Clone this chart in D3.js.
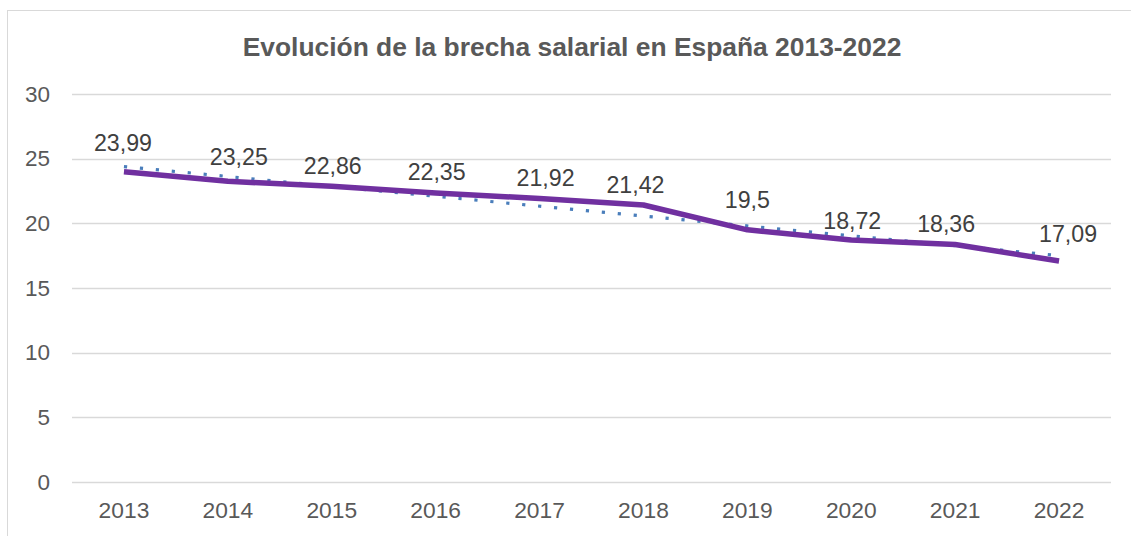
<!DOCTYPE html>
<html><head><meta charset="utf-8">
<script src="https://cdn.jsdelivr.net/npm/d3@7"></script>
<style>body{margin:0;background:#fff}svg{display:block}</style>
</head><body>
<svg id="c" width="1131" height="536"></svg>
<script>
const years = ["2013","2014","2015","2016","2017","2018","2019","2020","2021","2022"];
const gap = [23.99,23.25,22.86,22.35,21.92,21.42,19.5,18.72,18.36,17.09];
const labels = ["23,99","23,25","22,86","22,35","21,92","21,42","19,5","18,72","18,36","17,09"];
const yTicks = [0,5,10,15,20,25,30];
const title = "Evolución de la brecha salarial en España 2013-2022";

// layout only: manual nudges of the data labels (px), as placed in the original chart
const labelDx = [-1,11,1,1,6,-8,0,1,-9,9];
const labelDy = [-21,-16,-12,-13,-13,-12,-22,-11,-13,-19];

const svg = d3.select("#c");
const font = "'Liberation Sans', Arial, sans-serif";
svg.append("rect").attr("x",7.5).attr("y",10.5).attr("width",1140).attr("height",540)
  .attr("fill","#fff").attr("stroke","#d9d9d9").attr("stroke-width",1);

const x = d3.scaleBand().domain(years).range([72,1111]);
const y = d3.scaleLinear().domain([0,30]).range([482,94]);
const cx = d => x(d) + x.bandwidth()/2;

// gridlines
svg.append("g").selectAll("line").data(yTicks).join("line")
  .attr("x1",72).attr("x2",1111).attr("y1",d=>Math.round(y(d))+0.5).attr("y2",d=>Math.round(y(d))+0.5)
  .attr("stroke","#d9d9d9").attr("stroke-width",1.3);

// y axis labels
const yAxis = d3.axisLeft(y).tickValues(yTicks).tickSize(0).tickPadding(22);
const gy = svg.append("g").attr("transform","translate(72,0)").call(yAxis);
gy.select(".domain").remove();
gy.selectAll("text").attr("font-family",font).attr("font-size",22.5).attr("fill","#595959");

// x axis labels
const xAxis = d3.axisBottom(x).tickSize(0).tickPadding(20);
const gx = svg.append("g").attr("transform","translate(0,482)").call(xAxis);
gx.select(".domain").remove();
gx.selectAll("text").attr("font-family",font).attr("font-size",22.8).attr("fill","#595959");

// trendline (linear regression)
const n = gap.length;
const xs = d3.range(1,n+1);
const mx = d3.mean(xs), my = d3.mean(gap);
const slope = d3.sum(xs,(v,i)=>(v-mx)*(gap[i]-my))/d3.sum(xs,v=>(v-mx)*(v-mx));
const icpt = my - slope*mx;
svg.append("line")
  .attr("x1",cx(years[0])).attr("y1",y(icpt+slope*1))
  .attr("x2",cx(years[n-1])).attr("y2",y(icpt+slope*n))
  .attr("stroke","#4a7ebb").attr("stroke-width",3.2).attr("stroke-dasharray","3.2,12.8");

// main line
const line = d3.line().x((d,i)=>cx(years[i])).y(d=>y(d));
svg.append("path").datum(gap).attr("d",line).attr("fill","none")
  .attr("stroke","#7030a0").attr("stroke-width",5.5).attr("stroke-linejoin","round");

// data labels
svg.append("g").selectAll("text").data(gap).join("text")
  .attr("x",(d,i)=>cx(years[i])+labelDx[i]).attr("y",(d,i)=>y(d)+labelDy[i])
  .attr("text-anchor","middle").attr("font-family",font).attr("font-size",23.2).attr("fill","#404040")
  .text((d,i)=>labels[i]);

// title
svg.append("text").attr("x",572).attr("y",56).attr("text-anchor","middle")
  .attr("font-family",font).attr("font-size",26.4).attr("font-weight","bold").attr("fill","#595959")
  .text(title);
</script>
</body></html>
